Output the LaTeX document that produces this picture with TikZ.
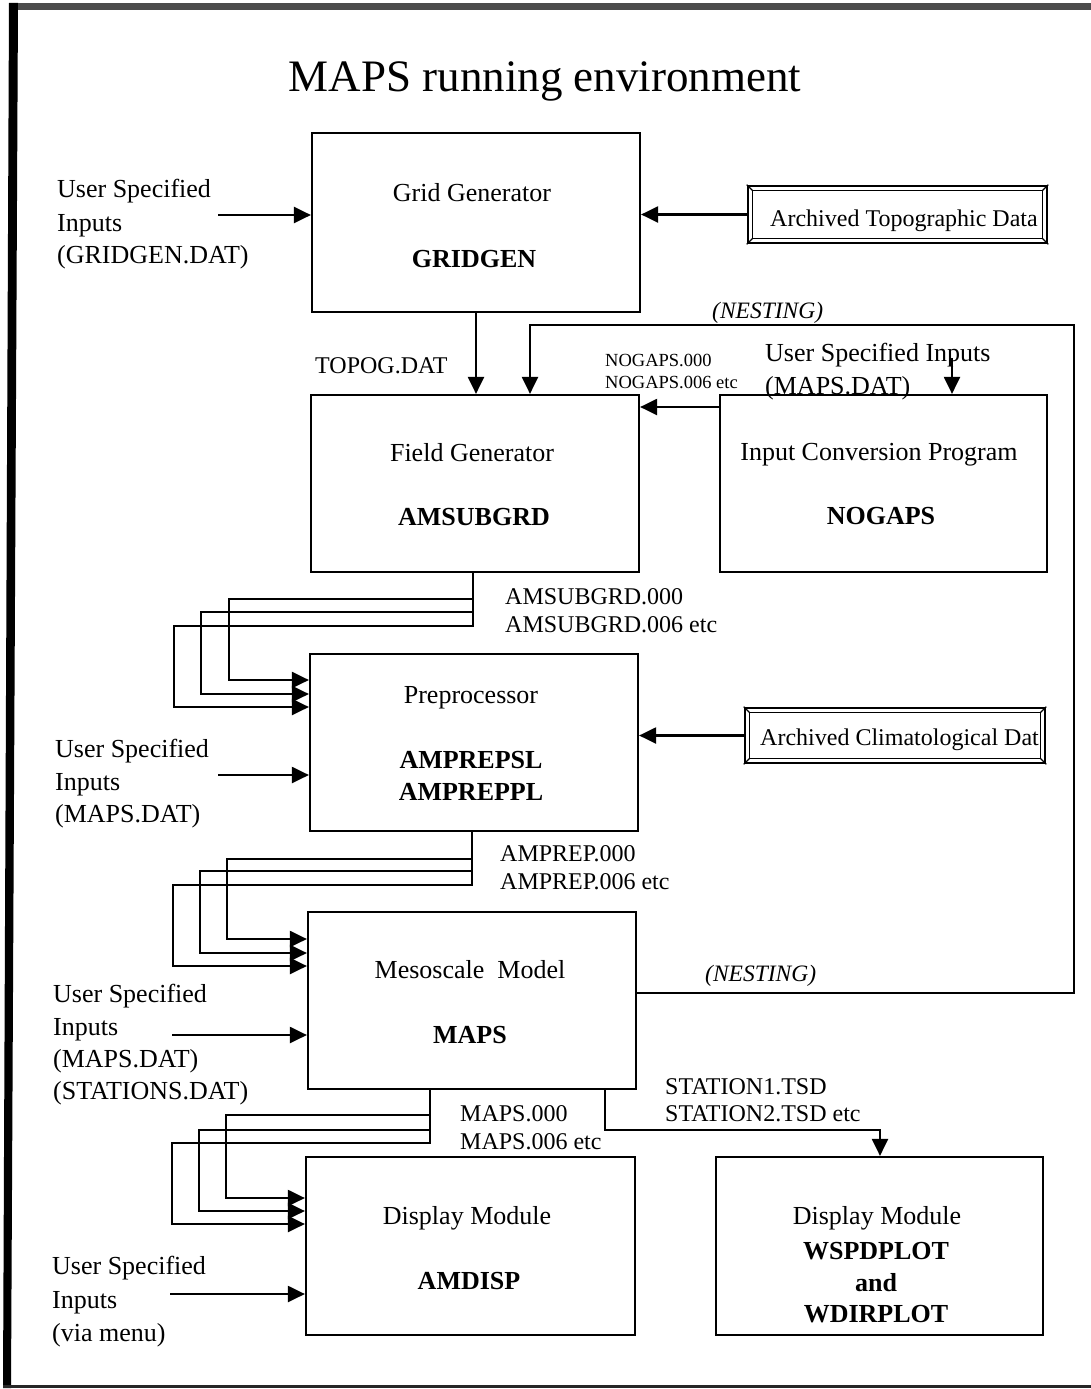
\documentclass[tikz,border=0pt]{standalone}
\usepackage{fontspec}
\setmainfont{Liberation Serif}
\usetikzlibrary{arrows.meta}
\begin{document}
\begin{tikzpicture}[x=1pt,y=-1pt,
  blk/.style={draw, line width=2.2pt, inner sep=0, minimum width=328pt, minimum height=177pt},
  arch/.style={draw, line width=2.6pt, inner sep=0},
  big/.style={font=\fontsize{26}{30}\selectfont, inner sep=0},
  bigb/.style={font=\fontsize{26}{30}\selectfont\bfseries, inner sep=0},
  mid/.style={font=\fontsize{24}{28}\selectfont, inner sep=0},
  sml/.style={font=\fontsize{18.5}{22}\selectfont, inner sep=0},
  ital/.style={font=\fontsize{23.5}{28}\selectfont\itshape, inner sep=0},
  arr/.style={line width=2.2pt, -{Triangle[length=17pt,width=16pt]}}]
\useasboundingbox (0,0) rectangle (1091,1389);
\fill[white] (0,0) rectangle (1091,1389);
% page frame
\fill[black!70] (9,3) rectangle (1091,10);
\fill[black] (9,3) -- (18,3) -- (11,1388) -- (3,1388) -- cycle;
\fill[black!85] (3,1385) rectangle (1091,1388);

% title
\node[font=\fontsize{45}{50}\selectfont, inner sep=0, anchor=base] (title) at (545,92) {MAPS running environment};

% main boxes
\node[blk, minimum width=328pt, minimum height=179pt] (grid) at (476,222.5) {};
\node[blk] (field) at (475,483.5) {};
\node[blk, minimum width=327pt] (conv) at (883.5,483.5) {};
\node[blk] (prep) at (474,742.5) {};
\node[blk] (meso) at (472,1000.5) {};
\node[blk, minimum width=329pt, minimum height=178pt] (disp) at (470.5,1246) {};
\node[blk, minimum width=327pt, minimum height=178pt] (wplot) at (879.5,1246) {};

% archived data boxes
\node[arch, minimum width=299pt, minimum height=57pt] (topo) at (897.5,214.5) {};
\draw[line width=1.3pt] ([shift={(6,6)}]topo.north west) rectangle ([shift={(-6,-6)}]topo.south east);
\draw[line width=1.1pt] (topo.north west) -- ([shift={(6,6)}]topo.north west)
  (topo.north east) -- ([shift={(-6,6)}]topo.north east)
  (topo.south west) -- ([shift={(6,-6)}]topo.south west)
  (topo.south east) -- ([shift={(-6,-6)}]topo.south east);
\node[mid, anchor=base west] (topot) at (770,226) {Archived Topographic Data};

\node[arch, minimum width=300pt, minimum height=55pt] (clim) at (895,735.5) {};
\draw[line width=1.3pt] ([shift={(6,6)}]clim.north west) rectangle ([shift={(-6,-6)}]clim.south east);
\draw[line width=1.1pt] (clim.north west) -- ([shift={(6,6)}]clim.north west)
  (clim.north east) -- ([shift={(-6,6)}]clim.north east)
  (clim.south west) -- ([shift={(6,-6)}]clim.south west)
  (clim.south east) -- ([shift={(-6,-6)}]clim.south east);
\node[mid, anchor=base west] (climt) at (760,745) {Archived Climatological Dat};

% box texts
\node[big, anchor=base] (gridt1) at (472,201) {Grid Generator};
\node[bigb, anchor=base] (gridt2) at (474,267) {GRIDGEN};
\node[big, anchor=base] (fieldt1) at (472,461) {Field Generator};
\node[bigb, anchor=base] (fieldt2) at (474,525) {AMSUBGRD};
\node[big, anchor=base] (convt1) at (879,460) {Input Conversion Program};
\node[bigb, anchor=base] (convt2) at (881,524) {NOGAPS};
\node[big, anchor=base] (prept1) at (471,703) {Preprocessor};
\node[bigb, anchor=base] (prept2) at (471,768) {AMPREPSL};
\node[bigb, anchor=base] (prept3) at (471,800) {AMPREPPL};
\node[big, anchor=base] (mesot1) at (470,978) {Mesoscale\ \ Model};
\node[bigb, anchor=base] (mesot2) at (470,1043) {MAPS};
\node[big, anchor=base] (dispt1) at (467,1224) {Display Module};
\node[bigb, anchor=base] (dispt2) at (469,1289) {AMDISP};
\node[big, anchor=base] (wplott1) at (877,1224) {Display Module};
\node[bigb, anchor=base] (wplott2) at (876,1259) {WSPDPLOT};
\node[bigb, anchor=base] (wplott3) at (876,1291) {and};
\node[bigb, anchor=base] (wplott4) at (876,1322) {WDIRPLOT};

% user inputs texts
\node[big, anchor=base west] (ua1) at (57,197) {User Specified};
\node[big, anchor=base west] (ua2) at (57,231) {Inputs};
\node[big, anchor=base west] (ua3) at (57,263) {(GRIDGEN.DAT)};
\node[big, anchor=base west] (ub1) at (55,757) {User Specified};
\node[big, anchor=base west] (ub2) at (55,790) {Inputs};
\node[big, anchor=base west] (ub3) at (55,822) {(MAPS.DAT)};
\node[big, anchor=base west] (uc1) at (53,1002) {User Specified};
\node[big, anchor=base west] (uc2) at (53,1035) {Inputs};
\node[big, anchor=base west] (uc3) at (53,1067) {(MAPS.DAT)};
\node[big, anchor=base west] (uc4) at (53,1099) {(STATIONS.DAT)};
\node[big, anchor=base west] (ud1) at (52,1274) {User Specified};
\node[big, anchor=base west] (ud2) at (52,1308) {Inputs};
\node[big, anchor=base west] (ud3) at (52,1341) {(via menu)};
\node[big, anchor=base west] (ue1) at (765,361) {User Specified Inputs};
\node[big, anchor=base west] (ue2) at (765,394) {(MAPS.DAT)};

% file labels
\node[mid, anchor=base west] (lt) at (315,373) {TOPOG.DAT};
\node[sml, anchor=base west] (ln1) at (605,366) {NOGAPS.000};
\node[sml, anchor=base west] (ln2) at (605,388) {NOGAPS.006 etc};
\node[mid, anchor=base west] (la1) at (505,604) {AMSUBGRD.000};
\node[mid, anchor=base west] (la2) at (505,632) {AMSUBGRD.006 etc};
\node[mid, anchor=base west] (lp1) at (500,861) {AMPREP.000};
\node[mid, anchor=base west] (lp2) at (500,889) {AMPREP.006 etc};
\node[mid, anchor=base west] (lm1) at (460,1121) {MAPS.000};
\node[mid, anchor=base west] (lm2) at (460,1149) {MAPS.006 etc};
\node[mid, anchor=base west] (ls1) at (665,1094) {STATION1.TSD};
\node[mid, anchor=base west] (ls2) at (665,1121) {STATION2.TSD etc};
\node[ital, anchor=base west] (nest1) at (712,318) {(NESTING)};
\node[ital, anchor=base west] (nest2) at (705,981) {(NESTING)};

% input arrows
\coordinate (ca) at (218,215);
\coordinate (cb) at (218,775);
\coordinate (cc) at (172,1035);
\coordinate (cd) at (170,1294);
\coordinate (ce) at (952,358);
\draw[arr] (ca) -- (grid.west |- ca);
\draw[arr] (cb) -- (prep.west |- cb);
\draw[arr] (cc) -- (meso.west |- cc);
\draw[arr] (cd) -- (disp.west |- cd);
\draw[arr] (ce) -- (conv.north -| ce);

% data arrows
\draw[arr] (topo.west) -- (grid.east |- topo.west);
\draw[arr] (clim.west) -- (prep.east |- clim.west);
\draw[arr] (conv.west |- 0,407) -- (field.east |- 0,407);
\draw[arr] (grid.south) -- (field.north -| grid.south);

% nesting loop
\draw[arr] (meso.east |- 0,993) -- (1074,993) -- (1074,325) -- (530,325) -- (field.north -| 530,0);

% bundles
\foreach \yh/\xl/\yb in {599/229/680, 612/201/694, 626/174/707}
  \draw[arr] (field.south -| 473,0) |- (\xl,\yh) |- (prep.west |- 0,\yb);
\foreach \yh/\xl/\yb in {859/227/939, 871/200/953, 885/173/966}
  \draw[arr] (prep.south -| 472,0) |- (\xl,\yh) |- (meso.west |- 0,\yb);
\foreach \yh/\xl/\yb in {1115/226/1198, 1130/199/1211, 1143/172/1224}
  \draw[arr] (meso.south -| 430,0) |- (\xl,\yh) |- (disp.west |- 0,\yb);

% station output
\draw[arr] (meso.south -| 605,0) |- (880,1130) -- (wplot.north -| 880,0);
\end{tikzpicture}
\end{document}
